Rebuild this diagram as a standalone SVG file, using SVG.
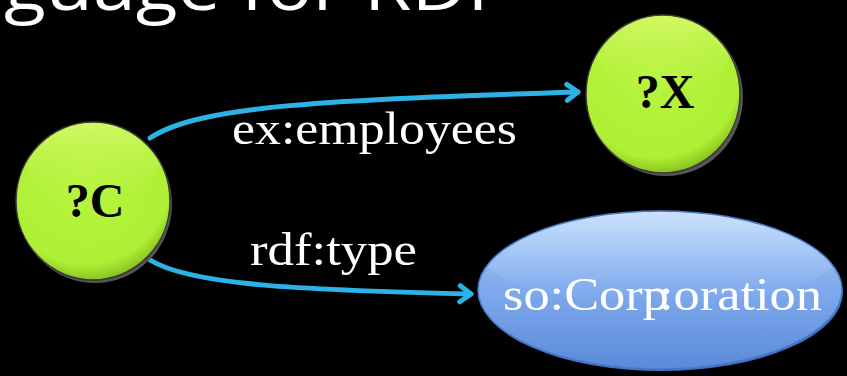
<svg xmlns="http://www.w3.org/2000/svg" width="847" height="376" viewBox="0 0 847 376">
<defs>
<radialGradient id="gGreen" cx="0.45" cy="0.35" r="0.65">
<stop offset="0" stop-color="#b8f540"/>
<stop offset="0.85" stop-color="#aef035"/>
<stop offset="1" stop-color="#8cc41f"/>
</radialGradient>
<linearGradient id="gHiG" x1="0" y1="0" x2="0" y2="1">
<stop offset="0" stop-color="#ffffa0" stop-opacity="0.9"/>
<stop offset="1" stop-color="#c0f050" stop-opacity="0"/>
</linearGradient>
<linearGradient id="gBlue" x1="0" y1="0" x2="0" y2="1">
<stop offset="0" stop-color="#a9cdfb"/>
<stop offset="0.5" stop-color="#7fa9ec"/>
<stop offset="1" stop-color="#5a8ad9"/>
</linearGradient>
<linearGradient id="gHiB" x1="0" y1="0" x2="0" y2="1">
<stop offset="0" stop-color="#ffffff" stop-opacity="0.8"/>
<stop offset="1" stop-color="#b8d6ff" stop-opacity="0"/>
</linearGradient>
<clipPath id="cC"><ellipse cx="93" cy="201" rx="76" ry="78"/></clipPath>
<clipPath id="cX"><ellipse cx="663" cy="94" rx="76" ry="78"/></clipPath>
<clipPath id="cB"><ellipse cx="660" cy="290" rx="181" ry="78"/></clipPath>
<marker id="arr" markerWidth="10" markerHeight="10" refX="7" refY="5" orient="auto" markerUnits="userSpaceOnUse" viewBox="0 0 10 10" overflow="visible">
<path d="M-4,-3 L7,5 L-4,13" fill="none" stroke="#2db2e6" stroke-width="5" stroke-linecap="round" stroke-linejoin="round"/>
</marker>
</defs>
<style>
.node{stroke:#3a3a3a;stroke-width:1.5}
.vtxt{font-family:"Liberation Serif",serif;font-weight:bold;fill:#000;font-size:48px}
.lbl{font-family:"Liberation Serif",serif;fill:#fff;font-size:47px}
.edge{fill:none;stroke:#2db2e6;stroke-width:5;stroke-linecap:round}
</style>
<rect width="847" height="376" fill="#000"/>
<text x="4" y="10" font-family="'Open Sans',sans-serif" font-size="68" fill="#fff" textLength="503" lengthAdjust="spacingAndGlyphs">guage for RDF</text>
<g id="edges">
<path class="edge" d="M150,138 C200,105 330,100 578,92" marker-end="url(#arr)"/>
<path class="edge" d="M150,260 C190,285 300,290 471,294" marker-end="url(#arr)"/>
<text class="lbl" x="232" y="144" textLength="285" lengthAdjust="spacingAndGlyphs">ex:employees</text>
<text class="lbl" x="250" y="265" textLength="167" lengthAdjust="spacingAndGlyphs">rdf:type</text>
</g>
<g id="nodeC">
<ellipse cx="95" cy="204" rx="77" ry="79" fill="#555"/>
<ellipse class="node" cx="93" cy="201" rx="77" ry="79" fill="url(#gGreen)"/>
<ellipse cx="93" cy="160" rx="66" ry="40" fill="url(#gHiG)" opacity="0.5" clip-path="url(#cC)"/>
<text class="vtxt" x="95" y="217" text-anchor="middle">?C</text>
</g>
<g id="nodeX">
<ellipse cx="666" cy="97" rx="77" ry="79" fill="#555"/>
<ellipse class="node" cx="663" cy="94" rx="77" ry="79" fill="url(#gGreen)"/>
<ellipse cx="663" cy="53" rx="66" ry="40" fill="url(#gHiG)" opacity="0.5" clip-path="url(#cX)"/>
<text class="vtxt" x="665" y="108" text-anchor="middle">?X</text>
</g>
<g id="nodeCorp">
<ellipse cx="661" cy="292" rx="182" ry="79" fill="#3d6fbf"/>
<ellipse cx="660" cy="290" rx="182" ry="79" fill="url(#gBlue)" stroke="#4a78c4" stroke-width="1.5"/>
<ellipse cx="660" cy="258" rx="175" ry="46" fill="url(#gHiB)" opacity="0.5" clip-path="url(#cB)"/>
<text class="lbl" x="503" y="310" font-size="50" textLength="319" lengthAdjust="spacingAndGlyphs">so:Corp<tspan dx="-9">:</tspan>oration</text>
</g>
</svg>
